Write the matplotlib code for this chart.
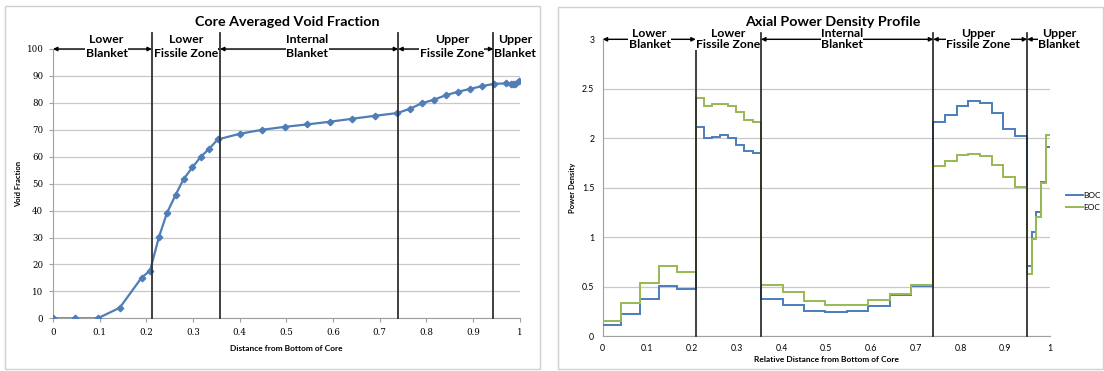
import matplotlib
matplotlib.use("Agg")
import matplotlib.pyplot as plt
from matplotlib.patches import Rectangle

# ---------------- data ----------------
void_x = [0.0, 0.048, 0.096, 0.143, 0.19, 0.208, 0.227, 0.244, 0.263, 0.280, 0.299,
          0.317, 0.335, 0.353, 0.400, 0.448, 0.497, 0.545, 0.594, 0.642, 0.690, 0.738,
          0.765, 0.790, 0.817, 0.843, 0.868, 0.894, 0.920, 0.946, 0.972, 0.981, 0.986,
          0.991, 0.999]
void_y = [0.0, 0.0, 0.0, 3.9, 15.1, 17.7, 30.1, 39.0, 45.9, 51.7, 56.1,
          60.0, 63.0, 66.4, 68.5, 70.0, 71.1, 72.0, 73.0, 74.1, 75.2, 76.2,
          77.8, 79.8, 81.2, 82.9, 84.1, 85.2, 86.2, 87.1, 87.2, 87.1, 87.0,
          87.0, 88.3]

void_bounds = [0.212, 0.358, 0.740, 0.944]
power_bounds = [0.208, 0.354, 0.739, 0.949]

zone_labels = ["Lower\nBlanket", "Lower\nFissile Zone", "Internal\nBlanket",
               "Upper\nFissile Zone", "Upper\nBlanket"]

power_edges = [0.0, 0.042, 0.083, 0.125, 0.167, 0.208,
               0.226, 0.244, 0.263, 0.281, 0.299, 0.317, 0.335, 0.354,
               0.402, 0.450, 0.498, 0.546, 0.594, 0.642, 0.690, 0.739,
               0.765, 0.791, 0.817, 0.844, 0.870, 0.896, 0.922, 0.949,
               0.959, 0.969, 0.979, 0.990, 1.0]
boc = [0.11, 0.22, 0.37, 0.51, 0.48,
       2.11, 2.00, 2.01, 2.03, 2.00, 1.93, 1.87, 1.85,
       0.37, 0.31, 0.255, 0.24, 0.25, 0.305, 0.41, 0.51,
       2.165, 2.23, 2.33, 2.38, 2.36, 2.25, 2.09, 2.02,
       0.71, 1.05, 1.25, 1.56, 1.91]
eoc = [0.15, 0.33, 0.54, 0.71, 0.65,
       2.41, 2.33, 2.35, 2.35, 2.33, 2.26, 2.18, 2.16,
       0.515, 0.44, 0.355, 0.313, 0.313, 0.364, 0.424, 0.515,
       1.72, 1.77, 1.83, 1.845, 1.82, 1.725, 1.61, 1.505,
       0.63, 0.98, 1.20, 1.55, 2.03]

series_names = ["BOC", "EOC"]

# ---------------- figure ----------------
W, H = 1104, 371
fig = plt.figure(figsize=(W / 100, H / 100), dpi=100)

def fx(px):
    return px / W

def fy(py):
    return 1 - py / H

# panel borders
for (x0, y0, x1, y1) in [(5, 6, 540, 369), (558, 7, 1103, 369)]:
    fig.add_artist(Rectangle((fx(x0), fy(y1)), fx(x1 - x0), fy(y0) - fy(y1),
                             transform=fig.transFigure, fill=False,
                             edgecolor="#d0d0d0", lw=1.0))

LABEL_FONT = "Lato"
grid_c = "#c8c8c8"
spine_c = "#a0a0a0"

# ---------- left chart ----------
ax1 = fig.add_axes([fx(53), fy(318.3), fx(519.5 - 53), fy(49) - fy(318.3)])
ax1.set_xlim(0, 1)
ax1.set_ylim(0, 100)
ax1.set_yticks(range(0, 101, 10))
ax1.set_xticks([i / 10 for i in range(11)])
ax1.set_xticklabels(["0", "0.1", "0.2", "0.3", "0.4", "0.5", "0.6", "0.7", "0.8", "0.9", "1"])
ax1.grid(axis="y", color=grid_c, lw=0.9)
ax1.set_axisbelow(True)
for s in ["top", "right"]:
    ax1.spines[s].set_visible(False)
for s in ["left", "bottom"]:
    ax1.spines[s].set_color(spine_c)
ax1.tick_params(axis="both", length=3, color=spine_c, labelsize=6.2, pad=4)
for lab in ax1.get_xticklabels() + ax1.get_yticklabels():
    lab.set_family("DejaVu Serif")
ax1.plot(void_x, void_y, color="#4f7db8", lw=1.6, marker="D", ms=3.3, zorder=3)
for b in void_bounds:
    ax1.axvline(b, ymin=0, ymax=1.06, color="#303030", lw=1.3, clip_on=False, zorder=4)

ax1.set_ylabel("Void Fraction", fontsize=5.5, fontweight="bold", family=LABEL_FONT, labelpad=3)
ax1.set_xlabel("Distance from Bottom of Core", fontsize=6, fontweight="bold",
               family=LABEL_FONT, labelpad=6)

left_edges = [0.0] + void_bounds + [1.0]
label_x1 = [0.115, 0.285, 0.545, 0.855, 0.99]
for i, lab in enumerate(zone_labels):
    a, b = left_edges[i], left_edges[i + 1]
    ax1.annotate("", xy=(b, 100), xytext=(a, 100),
                 arrowprops=dict(arrowstyle="<|-|>", mutation_scale=6, lw=1.0,
                                 color="black", shrinkA=0, shrinkB=0),
                 annotation_clip=False, zorder=5)
    ax1.text(label_x1[i], 100.8, lab, ha="center", va="center", fontsize=8.8,
             fontweight="bold", family=LABEL_FONT, linespacing=1.35, zorder=6,
             bbox=dict(facecolor="white", edgecolor="none", pad=0.3), clip_on=False)

fig.text(fx(287), fy(22), "Core Averaged Void Fraction", ha="center", va="center",
         fontsize=10.3, fontweight="bold", family=LABEL_FONT)

# ---------- right chart ----------
ax2 = fig.add_axes([fx(602.7), fy(336), fx(1050 - 602.7), fy(39.3) - fy(336)])
ax2.set_xlim(0, 1)
ax2.set_ylim(0, 3)
ax2.set_yticks([0, 0.5, 1, 1.5, 2, 2.5, 3])
ax2.set_yticklabels(["0", "0.5", "1", "1.5", "2", "2.5", "3"])
ax2.set_xticks([i / 10 for i in range(11)])
ax2.set_xticklabels(["0", "0.1", "0.2", "0.3", "0.4", "0.5", "0.6", "0.7", "0.8", "0.9", "1"])
ax2.grid(axis="y", color=grid_c, lw=0.9)
ax2.set_axisbelow(True)
for s in ["top", "right"]:
    ax2.spines[s].set_visible(False)
for s in ["left", "bottom"]:
    ax2.spines[s].set_color(spine_c)
ax2.tick_params(axis="both", length=0, labelsize=6.3, pad=6)
for lab in ax2.get_xticklabels() + ax2.get_yticklabels():
    lab.set_family(LABEL_FONT)

ax2.stairs(boc, power_edges, baseline=None, color="#4a7ebb", lw=1.4, label=series_names[0], zorder=3)
ax2.stairs(eoc, power_edges, baseline=None, color="#98b954", lw=1.4, label=series_names[1], zorder=3)
for b in power_bounds:
    ax2.axvline(b, ymin=0, ymax=1.02, color="#202020", lw=1.2, clip_on=False, zorder=4)

ax2.set_ylabel("Power Density", fontsize=5.5, fontweight="bold", family=LABEL_FONT, labelpad=4)
ax2.set_xlabel("Relative Distance from Bottom of Core", fontsize=6, fontweight="bold",
               family=LABEL_FONT, labelpad=2)

leg = ax2.legend(loc="center left", bbox_to_anchor=(1.035, 0.455), frameon=False,
                 prop={"family": LABEL_FONT, "size": 6}, handlelength=2.1,
                 handletextpad=0.05, labelspacing=0.6, borderaxespad=0,
                 borderpad=0)

right_edges = [0.0] + power_bounds + [1.0]
label_x2 = [0.105, 0.28, 0.535, 0.84, 1.02]
for i, lab in enumerate(zone_labels):
    a, b = right_edges[i], right_edges[i + 1]
    ax2.annotate("", xy=(b, 3), xytext=(a, 3),
                 arrowprops=dict(arrowstyle="<|-|>", mutation_scale=6, lw=1.0,
                                 color="black", shrinkA=0, shrinkB=0),
                 annotation_clip=False, zorder=5)
    ax2.text(label_x2[i], 3.005, lab, ha="center", va="center", fontsize=8.8,
             fontweight="bold", family=LABEL_FONT, linespacing=1.05, zorder=6,
             bbox=dict(facecolor="white", edgecolor="none", pad=0.3), clip_on=False)

fig.text(fx(833), fy(22), "Axial Power Density Profile", ha="center", va="center",
         fontsize=10.3, fontweight="bold", family=LABEL_FONT, zorder=1)

fig.savefig("out.png", dpi=100)
